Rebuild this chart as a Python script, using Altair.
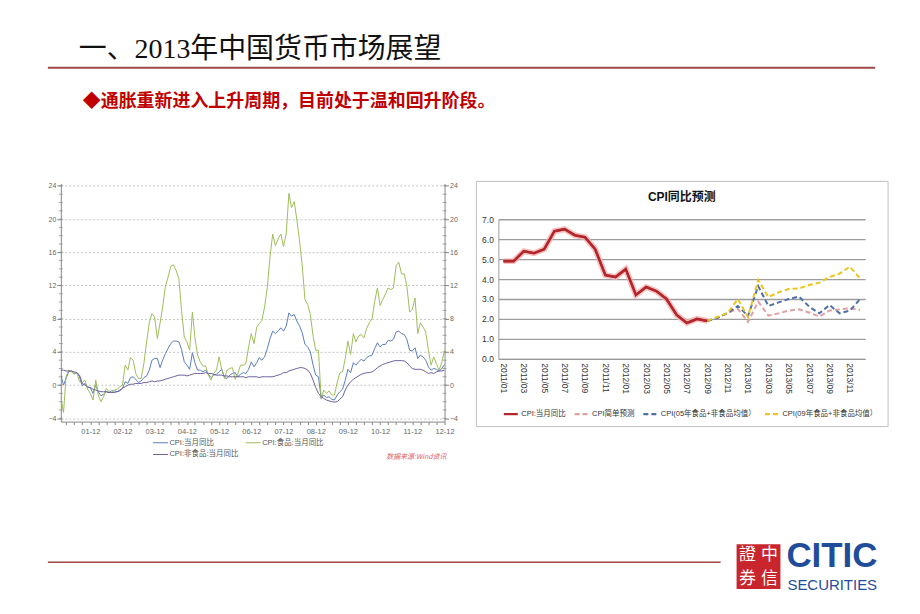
import altair as alt
import pandas as pd

# ---------------- text ----------------
TITLE = "一、2013年中国货币市场展望"
SUBTITLE = "◆通胀重新进入上升周期，目前处于温和回升阶段。"
SOURCE = "数据来源:Wind资讯"
RIGHT_TITLE = "CPI同比预测"

FONT = "'Liberation Sans', 'Noto Sans CJK SC'"
CJK = "'Noto Sans CJK SC'"

# ---------------- left chart data: monthly 2001-01 .. 2012-12 ----------------
left_dates = [f"{y}-{m:02d}-01" for y in range(2001, 2013) for m in range(1, 13)]

cpi_total = [
    1.2, 0.0, 0.8, 1.6, 1.7, 1.4, 1.5, 1.0, -0.1, 0.2, -0.3, -0.3,
    -1.0, 0.0, -0.8, -1.3, -1.1, -0.8, -0.9, -0.7, -0.7, -0.8, -0.7, -0.4,
    0.4, 0.2, 0.9, 1.0, 0.7, 0.3, 0.5, 0.9, 1.1, 1.8, 3.0, 3.2,
    3.2, 2.1, 3.0, 3.8, 4.4, 5.0, 5.3, 5.3, 5.2, 4.3, 2.8, 2.4,
    1.9, 3.9, 2.7, 1.8, 1.8, 1.6, 1.8, 1.3, 0.9, 1.2, 1.3, 1.6,
    1.9, 0.9, 0.8, 1.2, 1.4, 1.5, 1.0, 1.3, 1.5, 1.4, 1.9, 2.8,
    2.2, 2.7, 3.3, 3.0, 3.4, 4.4, 5.6, 6.5, 6.2, 6.5, 6.9, 6.5,
    7.1, 8.7, 8.3, 8.5, 7.7, 7.1, 6.3, 4.9, 4.6, 4.0, 2.4, 1.2,
    1.0, -1.6, -1.2, -1.5, -1.4, -1.7, -1.8, -1.2, -0.8, -0.5, 0.6, 1.9,
    1.5, 2.7, 2.4, 2.8, 3.1, 2.9, 3.3, 3.5, 3.6, 4.4, 5.1, 4.6,
    4.9, 4.9, 5.4, 5.3, 5.5, 6.4, 6.5, 6.2, 6.1, 5.5, 4.2, 4.1,
    4.5, 3.2, 3.6, 3.4, 3.0, 2.2, 1.8, 2.0, 1.9, 1.7, 2.0, 2.5,
]
cpi_food = [
    -1.4, -3.3, 1.0, 1.8, 1.6, 1.3, 1.5, 0.4, 0.3, 0.6, -0.5, -1.0,
    -1.8, 0.6, -1.2, -2.0, -1.4, -0.4, -0.8, -0.9, -0.6, -0.5, -0.2, 0.0,
    2.4, 1.8, 3.3, 3.0, 1.4, 0.8, 0.8, 2.6, 5.2, 7.5, 8.6, 8.2,
    5.6, 7.5, 9.4, 11.9, 13.0, 14.3, 14.5, 13.8, 12.8, 9.0, 5.8, 5.2,
    4.2, 8.8, 5.8, 3.6, 2.8, 2.3, 2.3, 1.2, 0.6, 1.4, 1.8, 3.4,
    1.8, 0.8, 1.8, 2.0, 2.1, 0.7, 1.4, 2.4, 2.4, 2.6, 4.6, 6.2,
    5.0, 7.0, 7.4, 7.8, 9.4, 11.8, 15.4, 18.2, 16.8, 17.6, 18.2, 16.7,
    18.2, 23.1, 21.4, 22.1, 19.9, 17.3, 14.4, 10.3, 9.7, 8.5, 5.9, 4.2,
    4.2, -1.7, -0.6, -1.0, -0.7, -1.2, -1.2, 0.3, 1.5, 1.6, 3.2, 5.3,
    3.7, 6.2, 5.2, 5.9, 6.1, 5.7, 6.8, 7.5, 8.0, 10.1, 11.7, 9.6,
    10.3, 11.0, 11.7, 11.5, 11.7, 14.4, 14.8, 13.4, 13.4, 11.9, 8.8, 9.1,
    10.5, 6.2, 7.5, 7.0, 6.4, 4.2, 2.4, 3.4, 2.5, 1.8, 2.8, 4.2,
]
cpi_nonfood = [
    1.8, 1.8, 1.7, 1.7, 1.7, 1.6, 1.5, 1.2, 0.2, 0.0, -0.2, -0.3,
    -0.5, -0.6, -0.7, -0.8, -0.8, -0.8, -0.9, -0.9, -0.9, -0.8, -0.6, -0.4,
    -0.2, 0.0, 0.1, 0.1, 0.2, 0.2, 0.2, 0.3, 0.3, 0.4, 0.5, 0.4,
    0.5, 0.5, 0.6, 0.7, 0.8, 0.9, 1.0, 1.1, 1.2, 1.2, 1.2, 1.1,
    1.2, 1.3, 1.4, 1.4, 1.4, 1.4, 1.5, 1.4, 1.4, 1.3, 1.2, 1.2,
    1.2, 1.1, 1.1, 1.0, 1.0, 1.0, 1.0, 1.0, 1.0, 0.9, 1.0, 1.0,
    1.0, 1.0, 0.9, 1.0, 1.0, 1.0, 1.0, 1.0, 1.1, 1.2, 1.3, 1.5,
    1.5, 1.7, 1.8, 1.9, 2.0, 2.1, 2.1, 2.0, 1.8, 1.4, 0.6, -0.3,
    -1.0, -1.4, -1.6, -1.8, -1.9, -2.0, -2.05, -2.0, -1.7, -1.4, -0.6, 0.0,
    0.4, 0.7, 0.9, 1.1, 1.3, 1.4, 1.5, 1.5, 1.6, 1.8, 2.1, 2.3,
    2.5, 2.6, 2.7, 2.8, 2.9, 2.95, 2.95, 2.95, 2.9, 2.7, 2.3, 2.0,
    1.9, 1.9, 1.9, 1.8, 1.6, 1.4, 1.5, 1.4, 1.6, 1.7, 1.7, 1.8,
]
left_names = ["CPI:当月同比", "CPI:食品:当月同比", "CPI:非食品:当月同比"]
left_colors = ["#5a7cbc", "#9fbd5a", "#6d5e9e"]
left_yticks = [-4, 0, 4, 8, 12, 16, 20, 24]
left_minor_ticks = list(range(-4, 25))

# ---------------- right chart data: 2011/01 .. 2013/12 ----------------
right_months = [f"{y}/{m:02d}" for y in (2011, 2012, 2013) for m in range(1, 13)]
actual = [4.9, 4.9, 5.4, 5.3, 5.5, 6.4, 6.5, 6.2, 6.1, 5.5, 4.2, 4.1,
          4.5, 3.2, 3.6, 3.4, 3.0, 2.2, 1.8, 2.0, 1.9]                 # 2011/01..2012/09
fc_simple = [1.9, 2.05, 2.3, 2.5, 1.85, 2.87, 2.17, 2.28, 2.42, 2.48, 2.32, 2.12,
             2.42, 2.48, 2.53, 2.45]                                     # 2012/09..2013/12
fc_05 = [1.9, 2.05, 2.3, 2.65, 2.15, 3.65, 2.65, 2.83, 3.0, 3.12, 2.62, 2.28,
         2.7, 2.28, 2.42, 3.0]
fc_09 = [1.9, 2.1, 2.3, 3.0, 2.1, 3.95, 3.1, 3.33, 3.5, 3.53, 3.7, 3.82,
         4.1, 4.28, 4.62, 4.03]
right_names = ["CPI:当月同比", "CPI简单预测", "CPI(05年食品+非食品均值）", "CPI(09年食品+非食品均值）"]
right_colors = ["#b3262b", "#dea0a2", "#4d70a8", "#ebc51f"]
right_dash = [[1, 0], [5, 3], [5, 3], [5, 3]]
right_yticks = [0, 1, 2, 3, 4, 5, 6, 7]

one = pd.DataFrame({"k": [0]})


def txt(text, x, y, **kw):
    return alt.Chart(one).mark_text(text=text, **kw).encode(x=alt.value(x), y=alt.value(y))


def hrule(x1, x2, y, color, w):
    return alt.Chart(one).mark_rule(color=color, strokeWidth=w).encode(
        x=alt.value(x1), x2=alt.value(x2), y=alt.value(y))


def spacer(w, h):
    return alt.Chart(one).mark_point(opacity=0).encode(
        x=alt.value(0), y=alt.value(0)).properties(width=w, height=h)


# ---------------- page frame: header + footer (logo) ----------------
BLUE = "#1f4d9c"
SEAL_FONT = "'Noto Sans CJK TC'"
page = alt.layer(
    txt(TITLE, 68, 49, align="left", baseline="alphabetic", fontSize=28,
        font="'Liberation Serif', 'Noto Sans CJK SC'", color="#111111"),
    hrule(37, 867, 59, "#a04848", 2),
    txt(SUBTITLE, 72, 93, align="left", baseline="middle", fontSize=18,
        fontWeight="bold", font=CJK, color="#c00000"),
    # footer
    hrule(37, 712, 555, "#a04848", 1.5),
    alt.Chart(one).mark_rect(color="#c8262c").encode(
        x=alt.value(728), x2=alt.value(772), y=alt.value(537), y2=alt.value(582)),
    txt("證", 739, 548, fontSize=17, color="white", font=SEAL_FONT),
    txt("中", 761, 548, fontSize=17, color="white", font=SEAL_FONT),
    txt("券", 739, 572, fontSize=17, color="white", font=SEAL_FONT),
    txt("信", 761, 572, fontSize=17, color="white", font=SEAL_FONT),
    txt("CITIC", 778, 560, align="left", baseline="alphabetic", fontSize=35,
        fontWeight="bold", font="'Liberation Sans'", color=BLUE),
    txt("SECURITIES", 779, 583, align="left", baseline="alphabetic", fontSize=15,
        font="'Liberation Sans'", color=BLUE),
).properties(width=904, height=175)

# ---------------- left chart ----------------
df_l = pd.DataFrame({
    "date": left_dates * 3,
    "value": cpi_total + cpi_food + cpi_nonfood,
    "series": [n for n in left_names for _ in left_dates],
})
df_minor = pd.DataFrame({"v": left_minor_ticks})
lx_scale = alt.Scale(type="utc", domain=[alt.DateTime(year=2001, month=1, date=1, utc=True),
                                         alt.DateTime(year=2012, month=12, date=1, utc=True)])
ly_scale = alt.Scale(domain=[-4.4, 24.3], nice=False, zero=False)
lx_ticks = [alt.DateTime(year=y, month=m, date=1, utc=True)
            for y in range(2001, 2013) for m in (3, 6, 9, 12)]
lx = alt.X("date:T", scale=lx_scale, axis=alt.Axis(
    values=lx_ticks, title=None, grid=False,
    labelExpr="utcFormat(datum.value, '%m') == '12' ? utcFormat(datum.value, '%y-%m') : ''",
    labelFontSize=7.5, labelColor="#666666", labelFont=FONT, labelOverlap=False, labelFlush=False,
    domainColor="#888888", tickColor="#888888", tickSize=3, labelPadding=3))
ly_common = dict(values=left_yticks, title=None, labelFontSize=7, labelColor="#666666",
                 labelFont=FONT, domainColor="#888888", tickColor="#888888", tickSize=4,
                 labelPadding=1)
l_legend = alt.Legend(orient="none", legendX=92, legendY=252, columns=2, direction="horizontal",
                      title=None, symbolType="stroke", symbolSize=225, symbolStrokeWidth=1,
                      labelFontSize=7.5, labelColor="#555555", labelFont=FONT,
                      labelOffset=1, columnPadding=4, rowPadding=0)

l_lines = alt.Chart(df_l).mark_line(strokeWidth=1, clip=True).encode(
    x=lx,
    y=alt.Y("value:Q", scale=ly_scale, axis=alt.Axis(
        orient="left", grid=True, gridDash=[2, 2], gridColor="#c4c4c4", **ly_common)),
    color=alt.Color("series:N", scale=alt.Scale(domain=left_names, range=left_colors),
                    sort=left_names, legend=l_legend),
)
l_right_axis = alt.Chart(df_l).mark_point(opacity=0).encode(
    y=alt.Y("value:Q", scale=ly_scale, axis=alt.Axis(orient="right", grid=False, **ly_common)),
)
l_minor_left = alt.Chart(df_minor).mark_tick(orient="horizontal", size=4, thickness=1,
                                             color="#888888").encode(
    y=alt.Y("v:Q", scale=ly_scale, axis=None), x=alt.value(0))
l_minor_right = alt.Chart(df_minor).mark_tick(orient="horizontal", size=4, thickness=1,
                                              color="#888888").encode(
    y=alt.Y("v:Q", scale=ly_scale, axis=None), x=alt.value(385))
l_src = txt(SOURCE, 387, 275, align="right", baseline="middle", fontSize=7,
            fontStyle="italic", font=CJK, color="#e06060")
left = alt.layer(l_lines, l_right_axis, l_minor_left, l_minor_right, l_src).resolve_scale(
    y="independent").properties(width=385, height=239)

# ---------------- right chart ----------------
rows = []
for i, v in enumerate(actual):
    rows.append({"month": right_months[i], "value": v, "name": right_names[0]})
for arr, nm in ((fc_simple, right_names[1]), (fc_05, right_names[2]), (fc_09, right_names[3])):
    for j, v in enumerate(arr):
        rows.append({"month": right_months[20 + j], "value": v, "name": nm})
df_r = pd.DataFrame(rows)
df_act = df_r[df_r["name"] == right_names[0]]

rx = alt.X("month:O", sort=right_months,
           scale=alt.Scale(domain=right_months, type="point", padding=0.5),
           axis=alt.Axis(values=right_months[::2], labelAngle=90, labelAlign="left",
                         labelBaseline="middle", labelFontSize=8.5, labelFont=FONT,
                         labelColor="#333333", title=None, ticks=False,
                         domainColor="#999999", labelPadding=4))
ry = alt.Y("value:Q", scale=alt.Scale(domain=[0, 7], nice=False, zero=False),
           axis=alt.Axis(values=right_yticks, format=".1f", grid=True, gridColor="#9c9c9c",
                         gridWidth=1.3, ticks=False, domainColor="#9c9c9c",
                         labelFontSize=8.5, labelFont=FONT, labelColor="#333333",
                         title=None, labelPadding=5))
r_legend = alt.Legend(orient="none", legendX=4, legendY=187, direction="horizontal",
                      title=None, symbolType="stroke", symbolSize=196, symbolStrokeWidth=2.2,
                      labelFontSize=7.5, labelFont=FONT, labelColor="#333333",
                      columnPadding=4, labelOffset=2, labelLimit=200)

r_box = alt.Chart(one).mark_rect(fillOpacity=0, stroke="#bfbfbf", strokeWidth=1).encode(
    x=alt.value(-22), x2=alt.value(391), y=alt.value(-38), y2=alt.value(208))
r_title = txt(RIGHT_TITLE, 184, -22, align="center", baseline="middle", fontSize=12,
              fontWeight="bold", font=FONT, color="#111111")
r_glow = alt.Chart(df_act).mark_line(color="#f3b2b2", strokeWidth=6, opacity=0.8).encode(
    x=rx, y=ry)
r_lines = alt.Chart(df_r).mark_line(strokeWidth=2).encode(
    x=rx, y=ry,
    color=alt.Color("name:N", scale=alt.Scale(domain=right_names, range=right_colors),
                    sort=right_names, legend=r_legend),
    strokeDash=alt.StrokeDash("name:N", scale=alt.Scale(domain=right_names, range=right_dash),
                              sort=right_names, legend=r_legend),
)
r_red = alt.Chart(df_act).mark_line(color="#b3262b", strokeWidth=2.6).encode(x=rx, y=ry)
right = alt.layer(r_box, r_title, r_glow, r_lines, r_red).properties(width=368, height=140)

# ---------------- assemble ----------------
right_col = alt.vconcat(spacer(368, 36), right, spacing=0, bounds="flush").resolve_scale(
    color="independent", strokeDash="independent").resolve_legend(
    color="independent", strokeDash="independent")
mid = alt.hconcat(spacer(50, 239), left, spacer(54, 239), right_col,
                  spacing=0, bounds="flush").resolve_scale(
    color="independent", strokeDash="independent").resolve_legend(
    color="independent", strokeDash="independent")

chart = alt.vconcat(page, mid, spacing=0, bounds="flush").resolve_scale(
    color="independent", strokeDash="independent").resolve_legend(
    color="independent", strokeDash="independent").properties(
    padding=0).configure_view(stroke=None)

chart.save("out.html", embed_options={"renderer": "svg", "actions": False})
